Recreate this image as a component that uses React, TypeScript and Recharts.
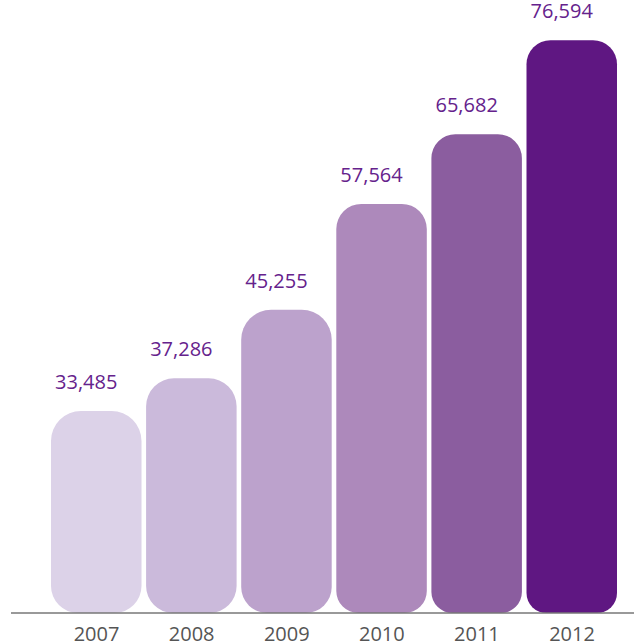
import React from "react";
import { BarChart, Bar, XAxis, YAxis, Cell, LabelList } from "recharts";

const years = ["2007", "2008", "2009", "2010", "2011", "2012"];
const values = [33485, 37286, 45255, 57564, 65682, 76594];

const colors = ["#dcd2e8", "#cbbadb", "#bca2cc", "#ad89bb", "#8b5d9f", "#5f1782"];
const topRadii = [30, 28, 30, 25, 24, 24];
const bottomRadii = [27, 27, 26, 22, 21, 20];

const data = years.map((y, i) => ({ year: y, value: values[i] }));

const RoundedBar = (props: any) => {
  const { x, y, width, height, index } = props;
  const rt = Math.min(topRadii[index], width / 2, height / 2);
  const rb = Math.min(bottomRadii[index], width / 2, height / 2);
  const d = `M${x},${y + rt}
    A${rt},${rt} 0 0 1 ${x + rt},${y}
    L${x + width - rt},${y}
    A${rt},${rt} 0 0 1 ${x + width},${y + rt}
    L${x + width},${y + height - rb}
    A${rb},${rb} 0 0 1 ${x + width - rb},${y + height}
    L${x + rb},${y + height}
    A${rb},${rb} 0 0 1 ${x},${y + height - rb}
    Z`;
  return <path d={d} fill={colors[index]} />;
};

const ValueLabel = (props: any) => {
  const { x, y, width, value } = props;
  return (
    <text
      x={x + width / 2 - 10}
      y={y - 22}
      textAnchor="middle"
      fill="#65228c"
      fontSize={20}
      fontFamily="'Open Sans', sans-serif"
    >
      {Number(value).toLocaleString("en-US")}
    </text>
  );
};

export default function App() {
  return (
    <div style={{ width: 634, height: 642, background: "#fff" }}>
      <style>{"body{margin:0;}"}</style>
      <BarChart
        width={634}
        height={642}
        data={data}
        margin={{ top: 11, right: 0, bottom: 0, left: 11 }}
        barSize={90.5}
      >
        <XAxis
          dataKey="year"
          height={29}
          padding={{ left: 38, right: 14.4 }}
          tickLine={false}
          tickMargin={8}
          axisLine={{ stroke: "#777", strokeWidth: 1.5 }}
          tick={{ fill: "#555", fontSize: 20, fontFamily: "'Open Sans', sans-serif" }}
        />
        <YAxis hide domain={[10000, 80000]} allowDataOverflow />
        <Bar dataKey="value" shape={<RoundedBar />} isAnimationActive={false}>
          {data.map((d, i) => (
            <Cell key={d.year} fill={colors[i]} />
          ))}
          <LabelList dataKey="value" content={<ValueLabel />} />
        </Bar>
      </BarChart>
    </div>
  );
}
